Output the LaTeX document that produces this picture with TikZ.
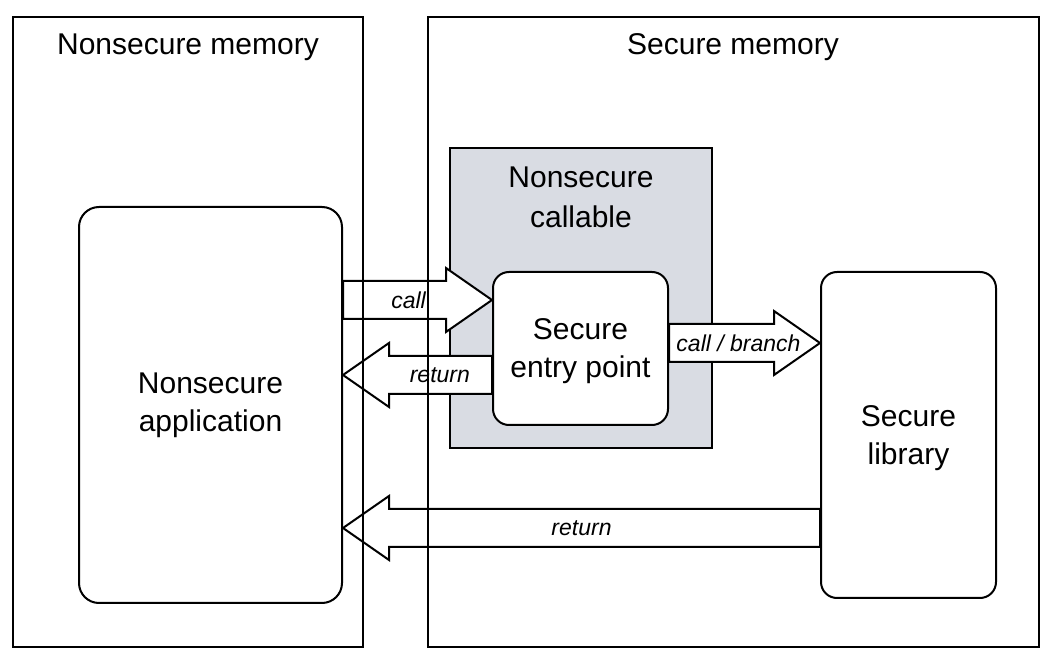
\documentclass[tikz,border=0pt]{standalone}
\usepackage{fontspec}
\setmainfont{Liberation Sans}
\usetikzlibrary{calc}
\definecolor{nscgray}{RGB}{217,220,227}

\pgfdeclarelayer{back}
\pgfdeclarelayer{arrows}
\pgfsetlayers{back,arrows,main}

\tikzset{
  box/.style={draw, line width=1pt, inner sep=0pt},
  roundbox/.style={box, rounded corners=10pt, fill=white, align=center,
    font=\fontsize{15}{19}\selectfont},
  title/.style={align=center, font=\fontsize{15}{20}\selectfont},
  fatarrow/.style={draw, line width=1pt, fill=white},
  arrowtext/.style={font=\fontsize{11.5}{14}\selectfont\itshape}
}

% tail, tip, pos of label, label
\newcommand{\fatarrow}[4]{%
  \draw[fatarrow] let \p1=(#1), \p2=(#2), \p3=($(#2)!23pt!(#1)$) in
    (\x1,\y1+9.5pt) -- (\x3,\y1+9.5pt) -- (\x3,\y1+16pt) -- (\x2,\y2)
    -- (\x3,\y1-16pt) -- (\x3,\y1-9.5pt) -- (\x1,\y1-9.5pt) -- cycle;
  \path (#1) -- (#2) node[pos=#3, arrowtext] {#4};}

\begin{document}
\begin{tikzpicture}[x=0.5pt, y=-0.5pt]
\useasboundingbox (0,0) rectangle (1056,662);

% memory regions
\node[box, minimum width=175pt, minimum height=315pt] (nsmem) at (188,332) {};
\node[box, minimum width=305.5pt, minimum height=315pt] (smem) at (733.5,332) {};
\node[title] (nstitle) at (188,47) {Nonsecure memory};
\node[title] (stitle) at (733,47) {Secure memory};

% nonsecure callable region
\begin{pgfonlayer}{back}
\node[box, fill=nscgray, minimum width=131pt, minimum height=150pt] (nsc) at (581,298) {};
\end{pgfonlayer}
\node[title] (nsctitle) at (581,197) {Nonsecure\\callable};

% code blocks
\node[roundbox, minimum width=131.5pt, minimum height=198pt] (app) at (210.5,405) {Nonsecure\\application};
\node[roundbox, rounded corners=8pt, minimum width=87.5pt, minimum height=76.5pt, text depth=-4pt] (entry) at (580.5,348.5) {Secure\\entry point};
\node[roundbox, rounded corners=8pt, minimum width=87.5pt, minimum height=163pt, text depth=-4pt] (lib) at (908.5,435) {Secure\\library};

% arrow rows
\coordinate (ycall) at (0,300);
\coordinate (yret) at (0,375);
\coordinate (ybranch) at (0,343);
\coordinate (yback) at (0,528);

\begin{pgfonlayer}{arrows}
\fatarrow{app.east |- ycall}{entry.west |- ycall}{0.44}{call}
\fatarrow{entry.west |- yret}{app.east |- yret}{0.35}{return}
\fatarrow{entry.east |- ybranch}{lib.west |- ybranch}{0.46}{call / branch}
\fatarrow{lib.west |- yback}{app.east |- yback}{0.5}{return}
\end{pgfonlayer}
\end{tikzpicture}
\end{document}
